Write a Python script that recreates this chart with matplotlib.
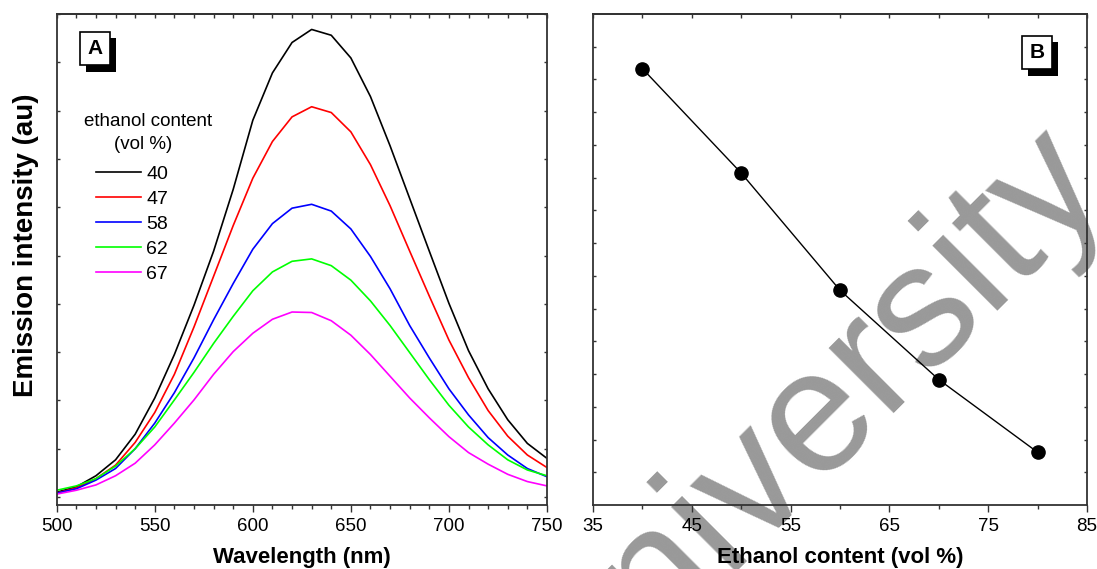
import matplotlib
matplotlib.use('Agg')
import matplotlib.pyplot as plt
from matplotlib import patheffects
from matplotlib.ticker import NullFormatter

plt.rcParams['font.family'] = ['Liberation Sans', 'DejaVu Sans']

# emission spectra, 10 nm steps
wavelength = [500, 510, 520, 530, 540, 550, 560, 570, 580, 590, 600, 610, 620,
              630, 640, 650, 660, 670, 680, 690, 700, 710, 720, 730, 740, 750]
em_40 = [10, 21, 44, 77, 130, 205, 295, 397, 509, 637, 780, 878, 941,
         968, 956, 909, 829, 727, 618, 509, 401, 303, 224, 160, 111, 80]
em_47 = [8, 19, 38, 66, 113, 175, 254, 352, 457, 562, 660, 736, 787,
         808, 796, 756, 688, 603, 509, 416, 325, 247, 179, 126, 87, 61]
em_58 = [8, 17, 35, 59, 100, 153, 216, 288, 367, 442, 513, 566, 598,
         606, 592, 555, 498, 431, 355, 288, 224, 170, 123, 87, 59, 42]
em_62 = [14, 23, 38, 64, 100, 145, 201, 258, 318, 374, 427, 466, 488,
         493, 479, 449, 406, 355, 299, 243, 190, 145, 108, 77, 56, 44]
em_67 = [6, 14, 25, 44, 70, 108, 153, 201, 254, 301, 339, 368, 383,
         382, 365, 335, 295, 250, 205, 164, 125, 92, 68, 47, 32, 23]
spectra = [em_40, em_47, em_58, em_62, em_67]
spectra_labels = ['40', '47', '58', '62', '67']
spectra_colors = ['black', '#ff0000', '#0000ff', '#00ff00', '#ff00ff']

# panel B
ethanol = [40, 50, 60, 70, 80]
intensity_b = [1333, 1014, 656, 383, 161]

spine_col = '#333333'

fig = plt.figure(figsize=(10.97, 5.69), dpi=100)

# faint watermark behind everything
fig.text(0.516, -0.279, 'University', rotation=45, rotation_mode='anchor',
         ha='left', va='baseline', fontsize=126, color='#999999', zorder=-1)

ax1 = fig.add_axes([0.0517, 0.1125, 0.4469, 0.8629])
ax2 = fig.add_axes([0.5406, 0.1125, 0.4503, 0.8629])

for ax in (ax1, ax2):
    ax.set_facecolor('none')
    for s in ax.spines.values():
        s.set_color(spine_col)
        s.set_linewidth(1.3)
    ax.tick_params(axis='x', which='major', direction='out', length=5, width=1,
                   color=spine_col, labelsize=13.5, pad=4.5)
    ax.tick_params(axis='x', which='minor', direction='out', length=3, width=1,
                   color=spine_col)
    ax.tick_params(axis='y', which='both', direction='in', left=True, right=True,
                   length=2, width=1, color=spine_col, labelleft=False)

# ---- A: spectra ----
lines = []
for vals, lab, col in zip(spectra, spectra_labels, spectra_colors):
    ln, = ax1.plot(wavelength, vals, color=col, lw=1.2, label=lab)
    lines.append(ln)
ax1.set_xlim(500, 750)
ax1.set_ylim(-16.5, 1000)
ax1.set_xticks(range(500, 751, 50))
ax1.set_xticks(range(500, 751, 10), minor=True)
ax1.set_yticks(range(0, 1001, 100))
top1 = ax1.secondary_xaxis('top')
top1.set_xticks(range(500, 751, 10))
top1.xaxis.set_major_formatter(NullFormatter())
top1.tick_params(direction='in', length=3, width=1, color=spine_col)
top1.spines['top'].set_color(spine_col)
top1.spines['top'].set_linewidth(1.3)

ax1.set_xlabel('Wavelength (nm)', fontsize=16, fontweight='bold')
ax1.xaxis.set_label_coords(0.5, -0.086)
ax1.set_ylabel('Emission intensity (au)', fontsize=20, fontweight='bold')
ax1.yaxis.set_label_coords(-0.036, 0.53)

# legend heading
fig.text(84 / 1097, 1 - 121 / 569, 'ethanol content', fontsize=13.5, ha='left', va='center')
fig.text(114 / 1097, 1 - 144.5 / 569, '(vol %)', fontsize=13.5, ha='left', va='center')
ax1.legend(handles=lines, loc='upper left', bbox_to_anchor=(0.080, 0.692),
           frameon=False, fontsize=14, handlelength=2.32, handletextpad=0.28,
           labelspacing=0.38, borderpad=0, borderaxespad=0)

# ---- B: intensity vs ethanol ----
ax2.plot(ethanol, intensity_b, '-o', color='black', lw=1, ms=9.5)
ax2.set_xlim(35, 85)
ax2.set_ylim(0, 1500)
ax2.set_xticks(range(35, 86, 10))
ax2.set_xticks(range(40, 81, 10), minor=True)
ax2.set_yticks(range(100, 1401, 100))
top2 = ax2.secondary_xaxis('top')
top2.set_xticks(range(35, 86, 5))
top2.xaxis.set_major_formatter(NullFormatter())
top2.tick_params(direction='in', length=3, width=1, color=spine_col)
top2.spines['top'].set_color(spine_col)
top2.spines['top'].set_linewidth(1.3)
ax2.set_xlabel('Ethanol content (vol %)', fontsize=16, fontweight='bold')
ax2.xaxis.set_label_coords(0.5, -0.086)

# panel tags with drop shadow
for px, py, tag in [(95, 48.5, 'A'), (1037, 52.5, 'B')]:
    t = fig.text(px / 1097, 1 - py / 569, tag, fontsize=15, fontweight='bold',
                 ha='center', va='center',
                 bbox=dict(boxstyle='square,pad=0.35', fc='white', ec='black', lw=1.2))
    t.get_bbox_patch().set_path_effects([
        patheffects.SimplePatchShadow(offset=(4.5, -4.5), shadow_rgbFace='black', alpha=1),
        patheffects.Normal()])

fig.savefig('out.png', dpi=100)
